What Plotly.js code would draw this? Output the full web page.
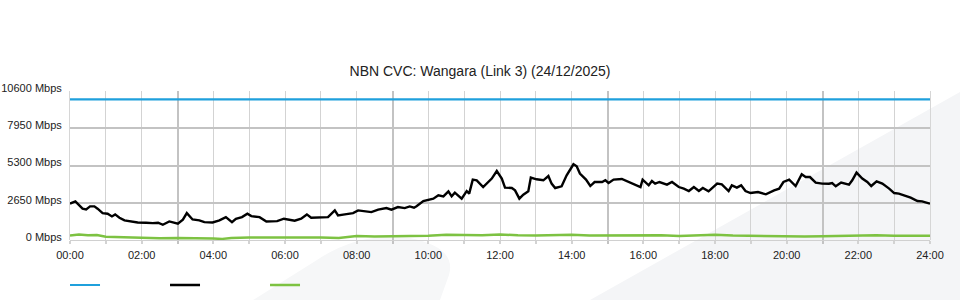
<!DOCTYPE html>
<html>
<head>
<meta charset="utf-8">
<script src="https://cdn.plot.ly/plotly-3.0.1.min.js"></script>
<style>html,body{margin:0;padding:0;background:#fff;}#chart{width:960px;height:300px;}</style>
</head>
<body>
<div id="chart"></div>
<script>
// ---- data (hours since 00:00, Mbps) ----
var capacityHours = [0, 24];
var capacityMbps = [10000, 10000];

var trafficHours = [0.00,0.15,0.35,0.45,0.56,0.68,0.77,0.91,1.05,1.17,1.26,1.38,1.52,1.70,1.89,2.12,2.31,2.46,2.59,2.77,
  3.01,3.15,3.26,3.42,3.61,3.75,3.98,4.17,4.35,4.52,4.63,4.80,4.95,5.06,5.29,5.48,5.62,5.78,5.97,6.13,
  6.27,6.45,6.61,6.73,7.01,7.20,7.39,7.48,7.67,7.90,8.04,8.22,8.41,8.60,8.83,8.97,9.15,9.34,9.48,9.60,
  9.67,9.86,10.00,10.14,10.28,10.42,10.56,10.65,10.74,10.93,11.07,11.14,11.24,11.35,11.53,11.77,11.91,12.05,12.14,12.33,
  12.42,12.54,12.65,12.79,12.86,13.02,13.21,13.35,13.44,13.54,13.72,13.86,14.05,14.14,14.23,14.40,14.52,14.64,14.85,14.94,
  15.03,15.17,15.40,15.54,15.73,15.82,15.92,15.98,16.15,16.24,16.33,16.45,16.66,16.80,16.99,17.13,17.27,17.41,17.55,17.66,
  17.82,18.06,18.19,18.38,18.47,18.61,18.73,18.85,18.99,19.20,19.42,19.65,19.79,19.91,20.07,20.25,20.42,20.53,20.65,20.81,
  20.99,21.18,21.27,21.37,21.52,21.74,21.83,21.95,22.11,22.25,22.36,22.51,22.67,22.86,23.00,23.13,23.28,23.46,23.65,23.78,24.00];
var trafficMbps = [2584,2748,2227,2177,2391,2391,2227,1913,1870,1677,1820,1584,1392,1320,1249,1227,1199,1230,1085,1320,
  1156,1442,1913,1463,1392,1270,1249,1392,1627,1270,1513,1627,1870,1699,1627,1320,1320,1340,1513,1442,
  1370,1513,1820,1584,1584,1627,2106,1749,1820,1913,2106,2034,1984,2156,2270,2156,2341,2270,2391,2298,
  2400,2770,2870,2941,3176,3105,3462,3105,3369,2941,3483,3298,4297,4247,3769,4368,4911,4368,3726,3698,
  3533,2941,3226,3462,4440,4318,4247,4554,4011,3698,3819,4604,5389,5246,4725,4297,3840,4126,4126,4247,
  4054,4297,4340,4197,4011,3890,3769,4297,3890,4197,4011,4126,3940,4126,3769,3654,3483,3769,3483,3698,
  3462,4011,3962,3483,3890,3726,3890,3483,3340,3412,3248,3533,3654,4126,4297,3840,4675,4483,4480,4083,
  4011,4000,4054,3819,4083,3940,4247,4797,4368,4126,3840,4176,4011,3654,3340,3300,3176,3012,2770,2750,2584];

var otherHours = [0,0.25,0.5,0.75,1,1.5,2,2.5,3,3.5,4,4.25,4.5,5,5.5,6,6.5,7,7.5,8,8.5,9,9.5,10,10.5,11,11.5,12,12.5,13,
  13.5,14,14.5,15,15.5,16,16.5,17,17.5,18,18.5,19,19.5,20,20.5,21,21.5,22,22.5,23,23.5,24];
var otherMbps = [320,390,330,360,230,200,150,130,150,150,100,80,150,170,180,170,180,180,150,280,250,270,250,300,380,350,330,400,330,320,
  350,370,320,330,320,300,340,290,330,370,320,300,250,240,250,260,290,320,330,300,280,300];

var xTickVals = [0,2,4,6,8,10,12,14,16,18,20,22,24];
var xTickText = ['00:00','02:00','04:00','06:00','08:00','10:00','12:00','14:00','16:00','18:00','20:00','22:00','24:00'];
var yTickVals = [0,2650,5300,7950,10600];
var yTickText = ['0 Mbps','2650 Mbps','5300 Mbps','7950 Mbps','10600 Mbps'];

var chartTitle = 'NBN CVC: Wangara (Link 3) (24/12/2025)';

// ---- chart ----
var FONT = 'Liberation Sans, Arial, sans-serif';
var traces = [
  {x: capacityHours, y: capacityMbps, xaxis: 'x2', type: 'scatter', mode: 'lines', name: ' ',
   line: {color: '#1fa0dc', width: 2.2}, hoverinfo: 'skip'},
  {x: trafficHours, y: trafficMbps, type: 'scatter', mode: 'lines', name: ' ',
   line: {color: '#000000', width: 2.4}, hoverinfo: 'skip'},
  {x: otherHours, y: otherMbps, type: 'scatter', mode: 'lines', name: ' ',
   line: {color: '#7dc242', width: 2.5}, hoverinfo: 'skip'}
];

var layout = {
  width: 960, height: 300,
  margin: {l: 70, r: 30, t: 91, b: 60},
  paper_bgcolor: '#ffffff',
  plot_bgcolor: 'rgba(0,0,0,0)',
  font: {family: FONT, size: 11, color: '#222'},
  title: {text: chartTitle, font: {family: FONT, size: 14, color: '#222'},
          x: 0.5, xanchor: 'center', yref: 'container', y: 0.763, yanchor: 'middle'},
  showlegend: true,
  legend: {orientation: 'h', x: -0.0058, xanchor: 'left', yref: 'container', y: 0.05, yanchor: 'middle',
           entrywidth: 55, entrywidthmode: 'pixels', bgcolor: 'rgba(0,0,0,0)'},
  xaxis: {range: [0, 24], tickvals: xTickVals, ticktext: xTickText, showgrid: false,
          zeroline: false, showline: false, ticks: '', ticklabelstandoff: 7, fixedrange: true},
  xaxis2: {overlaying: 'x', matches: 'x', range: [0, 24], showticklabels: false,
           tick0: 3, dtick: 6, showgrid: true, gridcolor: '#c3c3c3', gridwidth: 2,
           zeroline: false, ticks: 'outside', ticklen: 3, tickwidth: 2, tickcolor: '#c3c3c3',
           minor: {dtick: 1, tick0: 0, showgrid: true, gridcolor: '#d3d3d3', gridwidth: 1,
                   ticks: 'outside', ticklen: 3, tickcolor: '#d3d3d3'}},
  yaxis: {range: [0, 10600], tickvals: yTickVals, ticktext: yTickText,
          showgrid: true, gridcolor: '#c3c3c3', gridwidth: 2,
          zeroline: true, zerolinecolor: '#d0d0d0', zerolinewidth: 1,
          showline: true, mirror: true, linecolor: '#d6d6d6', linewidth: 1,
          ticks: '', ticklabelstandoff: 5, ticklabelshift: -3, fixedrange: true},
  shapes: [
    {type: 'path', xref: 'paper', yref: 'paper', layer: 'below', line: {width: 0},
     fillcolor: '#f4f5f7',
     path: 'M0.6047,-0.4027 L1.0349,0.9933 L1.0349,-0.4027 Z'},
    {type: 'path', xref: 'paper', yref: 'paper', layer: 'below', line: {width: 0},
     fillcolor: '#f6f7f8',
     path: 'M0.2128,-0.4027 L0.2872,-0.1342 Q0.3372,0.06 0.3953,0.0134 Q0.45,-0.05 0.4407,-0.2349 L0.4302,-0.4027 Z'}
  ]
};

Plotly.newPlot('chart', traces, layout, {staticPlot: true, displayModeBar: false});
</script>
</body>
</html>
